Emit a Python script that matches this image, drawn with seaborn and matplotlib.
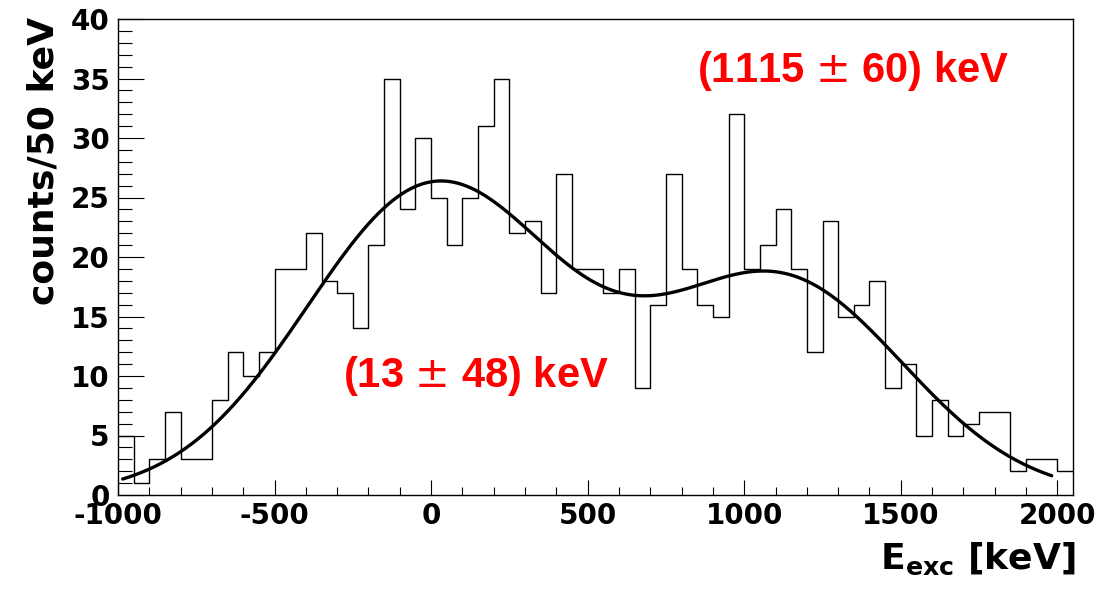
import numpy as np
import pandas as pd
import matplotlib
matplotlib.use('Agg')
import matplotlib.pyplot as plt
from matplotlib.ticker import MultipleLocator
import seaborn as sns

# ------------------------
# Datos del histograma (cuentas por bin de 50 keV, desde -1000 keV)
# ------------------------
bin_start = -1000
bin_width = 50
counts = [5, 1, 3, 7, 3, 3, 8, 12, 10, 12,
          19, 19, 22, 18, 17, 14, 21, 35, 24, 30,
          25, 21, 25, 31, 35, 22, 23, 17, 27, 19,
          19, 17, 19, 9, 16, 27, 19, 16, 15, 32,
          19, 21, 24, 19, 12, 23, 15, 16, 18, 9,
          11, 5, 8, 5, 6, 7, 7, 2, 3, 3, 2]

# Parametros del ajuste (dos gaussianas)
amp1, mean1, sigma1 = 26.0, 13.0, 410.0
amp2, mean2, sigma2 = 18.0, 1115.0, 395.0
fit_range = (-985, 1982)

peak_labels = ["(13 $\\pm$ 48) keV", "(1115 $\\pm$ 60) keV"]
peak_label_pos = [(-283, 9.1), (850, 34.7)]

bin_end = bin_start + bin_width * len(counts)
centers = bin_start + bin_width * (np.arange(len(counts)) + 0.5)
df = pd.DataFrame({'E': centers, 'n': counts})

x_fit = np.linspace(fit_range[0], fit_range[1], 600)
y_fit = (amp1 * np.exp(-(x_fit - mean1) ** 2 / (2 * sigma1 ** 2))
         + amp2 * np.exp(-(x_fit - mean2) ** 2 / (2 * sigma2 ** 2)))
fit_df = pd.DataFrame({'E': x_fit, 'f': y_fit})

# ------------------------
# Figura
# ------------------------
sns.set_theme(style='white')
plt.rcParams['font.family'] = ['DejaVu Sans']
plt.rcParams['mathtext.fontset'] = 'dejavusans'
plt.rcParams['axes.unicode_minus'] = False

fig = plt.figure(figsize=(11.15, 5.95), dpi=100)
ax = fig.add_axes([118 / 1115, 1 - 495 / 595, 955 / 1115, 476 / 595])

sns.histplot(data=df, x='E', weights='n', binwidth=bin_width,
             binrange=(bin_start, bin_end), element='step',
             fill=False, color='black', linewidth=1.0, ax=ax)
sns.lineplot(data=fit_df, x='E', y='f', color='black', linewidth=2.4, ax=ax)

ax.set_xlim(-1000, 2050)
ax.set_ylim(0, 40)

ax.xaxis.set_major_locator(MultipleLocator(500))
ax.xaxis.set_minor_locator(MultipleLocator(100))
ax.yaxis.set_major_locator(MultipleLocator(5))
ax.yaxis.set_minor_locator(MultipleLocator(1))

ax.tick_params(axis='both', which='both', direction='in', width=0.8, color='black',
               top=False, right=False, bottom=True, left=True)
ax.tick_params(axis='x', which='major', length=11, pad=5)
ax.tick_params(axis='x', which='minor', length=6)
ax.tick_params(axis='y', which='major', length=19, pad=6)
ax.tick_params(axis='y', which='minor', length=10)

for lab in ax.get_xticklabels() + ax.get_yticklabels():
    lab.set_fontsize(20)
    lab.set_fontweight('bold')
    lab.set_color('black')

for sp in ax.spines.values():
    sp.set_color('black')
    sp.set_linewidth(1.0)

ax.set_ylabel('counts/50 keV', fontsize=26, fontweight='bold', color='black', loc='top')
ax.yaxis.set_label_coords(-0.060, 1.004)
ax.set_xlabel(r'$\mathbf{E}_{\mathbf{exc}}$ [keV]', fontsize=26, fontweight='bold',
              color='black', loc='right')
ax.xaxis.set_label_coords(1.003, -0.095)

for txt, (tx, ty) in zip(peak_labels, peak_label_pos):
    ax.text(tx, ty, txt, color='red', fontsize=30, fontweight='bold',
            family='Liberation Sans', ha='left', va='baseline')

fig.savefig('out.png', dpi=100)
plt.close(fig)
